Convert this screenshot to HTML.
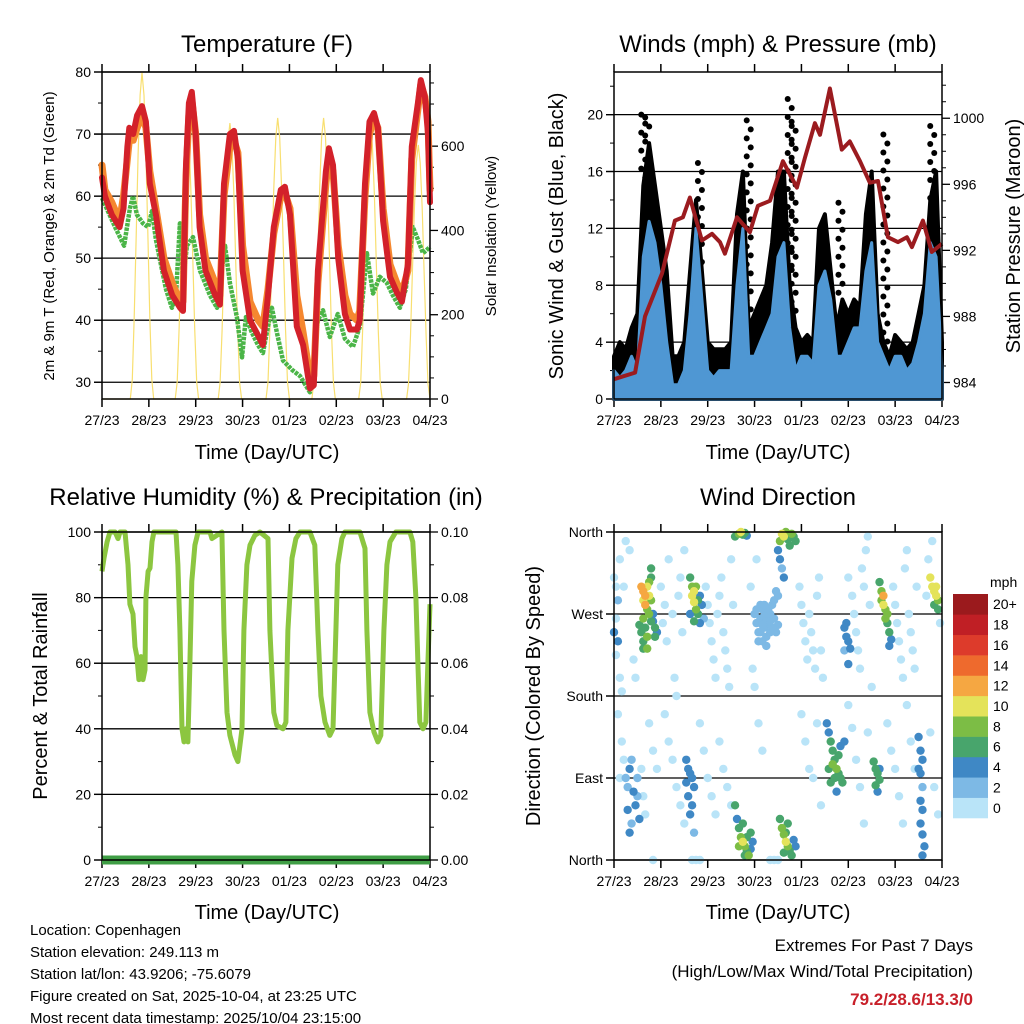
<!DOCTYPE html>
<html><head><meta charset="utf-8">
<style>
html,body{margin:0;padding:0;background:#fff;}
svg{display:block;font-family:"Liberation Sans",Arial,sans-serif;}
</style></head>
<body>
<svg id="chart" width="1024" height="1024" viewBox="0 0 1024 1024" xmlns="http://www.w3.org/2000/svg">
<rect width="1024" height="1024" fill="#fff"/>
<g font-size="24" text-anchor="middle">
<text x="267" y="52">Temperature (F)</text>
<text x="778" y="52">Winds (mph) &amp; Pressure (mb)</text>
<text x="266" y="505">Relative Humidity (%) &amp; Precipitation (in)</text>
<text x="778" y="505">Wind Direction</text>
</g>
<g font-size="20" text-anchor="middle">
<text x="267" y="459">Time (Day/UTC)</text>
<text x="778" y="459">Time (Day/UTC)</text>
<text x="267" y="919">Time (Day/UTC)</text>
<text x="778" y="919">Time (Day/UTC)</text>
</g>
<g text-anchor="middle">
<text transform="translate(54,236) rotate(-90)" font-size="15">2m &amp; 9m T (Red, Orange) &amp; 2m Td (Green)</text>
<text transform="translate(496,236) rotate(-90)" font-size="15">Solar Insolation (Yellow)</text>
<text transform="translate(563,236) rotate(-90)" font-size="20">Sonic Wind &amp; Gust (Blue, Black)</text>
<text transform="translate(1020,236) rotate(-90)" font-size="20">Station Pressure (Maroon)</text>
<text transform="translate(47,696) rotate(-90)" font-size="20">Percent &amp; Total Rainfall</text>
<text transform="translate(540,696) rotate(-90)" font-size="20">Direction (Colored By Speed)</text>
</g>
<g font-size="15">
<text x="30" y="935">Location: Copenhagen</text>
<text x="30" y="957">Station elevation: 249.113 m</text>
<text x="30" y="979">Station lat/lon: 43.9206; -75.6079</text>
<text x="30" y="1001">Figure created on Sat, 2025-10-04, at 23:25 UTC</text>
<text x="30" y="1023">Most recent data timestamp: 2025/10/04 23:15:00</text>
</g>
<g text-anchor="end" font-size="17">
<text x="973" y="951">Extremes For Past 7 Days</text>
<text x="973" y="977">(High/Low/Max Wind/Total Precipitation)</text>
<text x="973" y="1005" fill="#c8202a" font-weight="bold">79.2/28.6/13.3/0</text>
</g>
</svg>
<script>
// ---------- data ----------
const dayLabels = ["27/23","28/23","29/23","30/23","01/23","02/23","03/23","04/23"];
const tempHours = [0,1.5,5,9,11,13,14,16,18,20.5,22.5,24.5,27.6,31.7,36,40,41.5,43,44.5,46,48,50,53,58,60.4,62.5,65.5,67.6,69.6,72,75.8,80,82.4,85,88,91.6,93.7,96.3,99.8,103,106.5,108.5,110.6,114.7,116.2,118.3,121,124.4,127,130.6,132,134.7,137,139.3,141.3,144,147.5,151,153.6,156.7,158.7,161.8,163.3,165.4,167,168];
const tempRed = [63,60,57,55,58,68,71,70,73,74.5,72,62,57,48,44,42,41.5,65,75,76.8,70,55,48,44,42.5,62,70,70.5,66,48,40,37.5,36,44,55,61,61.5,57,39,36,29,29.5,48,64,67.7,65,50,41,38.5,38.5,40,62,72,73.4,71,56,47,44.5,43,49,68,75,78.7,76,70,59];
const tempOrange = [65,61,59,56,60,66,69,69,71,73,71,64,58,50,46,43,43,63,73,75.5,70,57,50,46,44,60,68,69,67,52,43,40,39,45,54,60,60.5,58,44,38,31,31,46,62,66.5,64,52,44,41,40,41.5,60,70,72.5,71,58,49,46,44.5,48,66,74,78,76,72,61];
const dewHours = [0,6.7,11.3,14.3,15.9,17.9,21,23.6,25.6,27.6,29.7,32.8,35.8,37.9,39.9,41.5,43.5,46.6,50.2,55.3,58.9,60.9,63,65.5,69.1,71.7,73.7,76.8,79.9,82.4,85,87,89.6,92.7,97.3,101.4,106.5,110.6,113.2,116.7,120.8,124.4,128.5,132.1,135.7,138.8,142.3,145.9,149,152.6,155.6,159.2,161.8,164.4,168];
const dewValues = [59.7,55,52,58,60,57,55.6,55,57.6,53,49.7,45,42,44,55.6,46,52,53.4,48,44,42,47,52,46,40.5,34,40.5,38,36,34.7,39,42,38,33.5,32,31,28.4,40,41.6,37.3,41,37,35.7,39,50.8,44.3,47,46,44,42,45,55,53,50.8,51.8];
const solarPeakHour = [20.5,43.5,65.5,90,113.5,137.5,162];
const solarPeak = [775,667,655,667,667,645,603];
const solarShapeOffset = [-6,-5,-4,-3,-2,-1,0,1,2,3,4,5,6];
const solarShapeFrac = [0,0.06,0.25,0.5,0.75,0.93,1,0.93,0.75,0.5,0.25,0.06,0];

const windSustained = [2,1.5,2,3,2,10,12.5,11,8,4,1,1,2,6,12,7,2,1.5,2,2,2,8,12,3,3,4,5,6,10,11,5,2,3,3,2.5,8,9,7,3,3,4,5,5,9,11,4,3,2,3,3,2,2.5,4,6,11,10,2];
const windGust = [3,4,3.5,5,6,15,18,15,12,9,3,3,4,9,14,9,4,3.5,3.5,3.5,4,13,16,5,6,7,8,11,16,16,8,5,4,4.5,4,12,13,9,5,7,6,7,6.5,13,16,6,4,3,4.5,4,3.5,4,6,8,14,16,4];
const gustPeakHours = [15,17,44,69,90,92,116,139,163];
const gustPeakValues = [20,19.8,16.6,19.6,21.1,19.5,13.8,18.6,19.2];
const pressHours = [0,10.8,15.9,24.6,31.2,35.3,38.9,45,50.2,54.3,56.8,63,69.6,73.7,79.9,86.5,93.7,97.8,102.9,105.5,110.6,116.7,120.8,126,131,135.2,140.3,145.4,150,152.6,158.2,162.8,168];
const pressValues = [984.2,984.6,988,990.6,993.8,994,995.2,992.6,993,992.5,991.8,994,993.1,994.7,995,997.4,995.8,997.6,999.7,999,1001.8,998.1,998.6,997.4,996.1,996.2,992.8,992.5,992.8,992.2,993.8,991.9,992.4];

const rhHours = [0,1,2.6,4.1,6.7,8.2,9.2,11.8,13.3,14.3,15.9,16.9,17.9,18.9,20,21,22,22.5,23.6,24.6,25.6,26.6,37.9,38.9,39.9,41,42,43,44,45,46,47.6,49.2,55.3,56.3,61.4,62.5,64,65.5,68.1,69.6,71.7,72.7,74.2,75.8,78.3,80.9,85,86,88,89.6,92.7,94.2,95.2,97.3,99.3,101.4,106.5,109,110.6,112.1,114.2,116.7,118.3,119.8,120.8,122.9,124.4,132.1,134.7,135.7,137.2,139.3,141.3,142.8,144.4,145.9,147.5,150.5,157.7,159.2,160.8,161.8,162.8,164.4,165.9,166.9,168];
const rhValues = [88,92,97,100,100,98,100,100,90,78,75,65,62,55,62,55,58,80,88,89,97,100,100,90,70,40,36,40,36,60,85,96,100,100,98,100,70,45,38,32,30,40,70,90,96,99,100,98,70,45,41,40,42,70,92,98,100,100,96,70,50,42,38,40,70,90,98,100,100,95,70,45,39,36,38,70,90,97,100,100,97,80,60,42,40,42,60,78];
const precipHours = [0,168];
const precipValues = [0,0];

const speedLabels = ["0","2","4","6","8","10","12","14","16","18","20+"];
const speedColors = ["#b9e4f8","#7db9e5","#3f88c5","#48a56c","#7cbd45","#e4e35a","#f5a742","#ee6a2d","#dd3b2b","#c01f25","#9b1a1d"];
const dirTicks = ["North","East","South","West","North"];
// [hour, direction deg, speed mph]
const windObs = [
[14,300,12],[15,295,12],[16,290,12],[15,285,11],[16,280,12],[17,300,10],[17,275,9],[18,305,8],[18,290,10],[19,285,9],[18,270,8],[15,265,8],[16,255,7],[14,250,6],[15,240,7],[17,245,8],[19,262,6],[20,270,4],[21,255,6],[22,250,5],[21,245,6],[20,262,5],[19,320,7],[19,310,7],[17,232,8],[15,232,6],[13,258,7],
[39,310,7],[40,300,9],[40,290,10],[41,295,10],[41,283,10],[42,300,9],[42,275,8],[43,285,7],[43,270,6],[44,290,5],[45,280,4],[44,260,4],[46,265,3],[39,270,4],[41,262,6],
[62,355,6],[64,358,8],[65,360,10],[66,357,7],[67,359,6],[68,356,5],
[84,340,4],[85,350,8],[86,358,10],[87,355,10],[88,360,8],[89,352,7],[90,345,6],[91,358,8],[92,355,7],[93,350,6],[85,330,4],[86,320,3],[87,310,4],
[72,270,2],[73,260,2],[74,250,2],[75,265,2],[76,275,2],[77,255,2],[78,245,2],[79,260,2],[80,270,2],[81,280,2],[82,265,2],[83,250,2],[84,258,2],[74,240,2],[76,240,2],[78,235,2],[80,250,2],[82,285,2],[75,280,2],[79,275,2],[77,268,2],[81,255,2],[73,275,2],[84,290,2],[83,295,2],[76,258,2],[78,262,2],[80,262,2],[75,250,2],[77,280,2],
[118,255,4],[119,245,4],[120,240,4],[121,232,5],[119,260,4],[118,230,3],[120,215,4],
[136,305,6],[137,295,8],[138,290,12],[138,280,10],[139,275,9],[139,265,8],[140,260,7],[141,250,6],[142,242,5],[140,270,8],[137,285,9],[141,235,5],
[162,310,10],[163,300,10],[164,295,10],[165,290,10],[166,285,9],[164,280,7],[165,300,10],[166,275,6],
[62,60,6],[63,45,4],[64,35,6],[65,25,8],[66,20,10],[67,15,8],[68,10,6],[69,5,8],[70,30,7],[66,40,6],[64,15,8],[68,25,6],[67,5,6],[70,12,4],[71,20,4],
[85,45,6],[86,35,8],[87,28,8],[88,20,10],[89,15,8],[90,10,6],[91,5,6],[92,22,5],[87,8,6],[89,40,6],[93,15,4],[88,30,6],
[109,150,4],[110,140,4],[111,130,6],[112,120,6],[113,110,6],[114,100,8],[115,95,6],[116,90,6],[117,85,6],[112,105,8],[113,90,6],[111,85,6],[110,100,6],[115,115,6],[114,75,5],[116,125,5],[118,130,5],
[133,108,6],[134,100,6],[135,95,6],[136,88,6],[134,82,6],[135,75,4],[136,100,5],
[6,90,3],[7,80,3],[8,100,4],[9,110,3],[10,75,4],[11,60,4],[12,70,3],[7,55,4],[9,40,3],[8,30,4],[12,90,3],[13,45,4],
[37,110,4],[38,100,4],[39,95,4],[40,90,4],[41,80,4],[38,70,4],[40,60,4],[39,50,4],[41,30,3],[37,85,4],
[156,135,4],[157,120,4],[158,110,4],[157,95,4],[158,80,3],[157,65,4],[158,55,4],[157,40,4],[158,28,4],[159,15,4],[156,100,4],[158,5,4],
[0,310,1],[1,300,1],[2,285,2],[1,265,1],[0,250,4],[2,240,4],[1,225,1],[3,200,1],[4,185,1],[5,300,1],[3,330,1],[6,350,1],[8,340,1],[10,220,1],[11,200,1],[24,300,1],[26,280,1],[25,260,1],[27,240,1],[28,330,1],[30,270,1],[31,200,1],[32,180,1],[33,290,1],[34,310,1],[35,250,1],[36,340,1],[47,300,1],[48,280,1],[49,260,1],[50,240,1],[51,220,1],[52,200,1],[53,270,1],[54,290,1],[55,310,1],[56,250,1],[57,230,1],[58,210,1],[59,190,1],[60,330,1],[61,280,1],[70,300,1],[71,210,1],[72,190,1],[73,330,1],[95,300,1],[96,280,1],[97,260,1],[98,240,1],[99,220,1],[100,270,1],[101,250,1],[102,230,1],[103,210,1],[104,290,1],[105,310,1],[106,230,1],[107,200,1],[120,310,1],[122,290,1],[123,270,1],[124,250,1],[125,230,1],[126,210,1],[127,320,1],[128,300,1],[129,340,1],[130,355,1],[131,280,1],[132,190,1],[143,300,1],[144,280,1],[145,260,1],[146,240,1],[147,220,1],[148,200,1],[149,320,1],[150,340,1],[151,270,1],[152,250,1],[153,230,1],[154,210,1],[155,300,1],[160,290,1],[161,330,1],[163,350,1],[167,260,1],
[2,160,1],[4,130,1],[5,110,1],[3,90,1],[14,100,1],[15,70,1],[16,50,1],[18,150,1],[20,120,1],[22,100,1],[26,160,1],[28,130,1],[30,110,1],[32,80,1],[34,60,1],[36,40,1],[44,150,1],[46,120,1],[48,90,1],[50,70,1],[52,50,1],[54,130,1],[56,100,1],[58,80,1],[60,60,1],[74,150,1],[76,120,1],[80,0,1],[82,0,1],[84,0,1],[96,160,1],[98,130,1],[100,100,1],[102,90,1],[104,150,1],[106,60,1],[120,170,1],[122,145,1],[124,110,1],[126,80,1],[128,40,1],[130,140,1],[140,150,1],[142,120,1],[144,100,1],[146,70,1],[148,40,1],[150,170,1],[152,130,1],[154,100,1],[162,140,1],[164,80,1],[166,50,1],[40,0,1],[42,0,1],[44,0,1],[20,0,1]
];

// ---------- helpers ----------
const NS = "http://www.w3.org/2000/svg";
const svg = document.getElementById("chart");
function mk(tag, attrs, parent) {
  const e = document.createElementNS(NS, tag);
  for (const k in attrs) e.setAttribute(k, attrs[k]);
  (parent || svg).appendChild(e);
  return e;
}
const P1 = {x0:102,x1:430,y0:72,y1:399};
const P2 = {x0:614,x1:942,y0:72,y1:399};
const P3 = {x0:102,x1:430,y0:532,y1:860};
const P4 = {x0:614,x1:942,y0:532,y1:860};
function xs(P, h) { return P.x0 + h / 168 * (P.x1 - P.x0); }
function lin(P, v, lo, hi) { return P.y1 - (v - lo) / (hi - lo) * (P.y1 - P.y0); }
const yT = v => lin(P1, v, 27.3, 80);
const yS = v => lin(P1, v, 0, 776);
const yW = v => lin(P2, v, 0, 23);
const yP = v => lin(P2, v, 983, 1002.8);
const yRH = v => lin(P3, v, 0, 100);
const yPr = v => lin(P3, v, 0, 0.1);
const yD = v => lin(P4, v, 0, 360);

function frame(P, name) {
  const g = mk("g", {});
  
  
  dayLabels.forEach((lab, i) => {
    const x = xs(P, i * 24);
    const t1 = mk("line", {x1:x, x2:x, y1:P.y1, y2:P.y1 + 8, stroke:"#000", "stroke-width":1.5}, g);
    
    
    const t2 = mk("line", {x1:x, x2:x, y1:P.y0 - 8, y2:P.y0, stroke:"#000", "stroke-width":1.5}, g);
    
    
    const tx = mk("text", {x:x, y:P.y1 + 26, "font-size":14, "text-anchor":"middle"}, g);
    tx.textContent = lab;
    
    
  });
  return g;
}
function border(P, name) {
  const r = mk("rect", {x:P.x0, y:P.y0, width:P.x1 - P.x0, height:P.y1 - P.y0, fill:"none", stroke:"#000", "stroke-width":1.5});
  
  
}
function yAxis(P, g, vals, yf, labels, side, grid, minor) {
  vals.forEach((v, i) => {
    const y = yf(v);
    if (grid) {
      const gl = mk("line", {x1:P.x0 - 8, x2:P.x1, y1:y, y2:y, stroke:"#000", "stroke-width":1.3}, g);
      
      
    }
    const x = side === "l" ? P.x0 : P.x1;
    const d = side === "l" ? -8 : 8;
    const tk = mk("line", {x1:x, x2:x + d, y1:y, y2:y, stroke:"#000", "stroke-width":1.3}, g);
    
    
    const tx = mk("text", {x:x + (side === "l" ? -11 : 11), y:y + 5, "font-size":14, "text-anchor":side === "l" ? "end" : "start"}, g);
    tx.textContent = labels[i];
    
    
  });
  (minor || []).forEach(v => {
    const y = yf(v);
    const x = side === "l" ? P.x0 : P.x1;
    const d = side === "l" ? -4 : 4;
    const tk = mk("line", {x1:x, x2:x + d, y1:y, y2:y, stroke:"#000", "stroke-width":1}, g);
    
    
  });
}
function path(pts) { return pts.map((p, i) => (i ? "L" : "M") + p[0].toFixed(1) + "," + p[1].toFixed(1)).join(""); }

// ---------- panel 1: temperature ----------
(function(){
  const g = frame(P1, "temperature");
  yAxis(P1, g, [30,40,50,60,70,80], yT, ["30","40","50","60","70","80"], "l", true, [35,45,55,65,75]);
  yAxis(P1, g, [0,200,400,600], yS, ["0","200","400","600"], "r", false, [50,100,150,250,300,350,450,500,550,650,700,750]);
  const sp = [[xs(P1,0), yS(0)]];
  solarPeakHour.forEach((ph, d) => {
    solarShapeOffset.forEach((o, j) => sp.push([xs(P1, ph + o), yS(solarPeak[d] * solarShapeFrac[j])]));
  });
  sp.push([xs(P1,168), yS(0)]);
  const s = mk("path", {d:path(sp), fill:"none", stroke:"#f8df70", "stroke-width":1.2});
  
  
  const dew = mk("path", {d:path(dewHours.map((h,i)=>[xs(P1,h), yT(dewValues[i])])), fill:"none", stroke:"#4bb548", "stroke-width":4.5, "stroke-dasharray":"3.5 1", "stroke-linejoin":"round"});
  
  
  const or = mk("path", {d:path(tempHours.map((h,i)=>[xs(P1,h), yT(tempOrange[i])])), fill:"none", stroke:"#f5872f", "stroke-width":7, "stroke-linejoin":"round", "stroke-linecap":"round"});
  
  
  const rd = mk("path", {d:path(tempHours.map((h,i)=>[xs(P1,h), yT(tempRed[i])])), fill:"none", stroke:"#d3212a", "stroke-width":6, "stroke-linejoin":"round", "stroke-linecap":"round"});
  
  
  border(P1, "temperature");
})();

// ---------- panel 2: winds & pressure ----------
(function(){
  const g = frame(P2, "winds");
  yAxis(P2, g, [0,4,8,12,16,20], yW, ["0","4","8","12","16","20"], "l", true, [2,6,10,14,18,22]);
  yAxis(P2, g, [984,988,992,996,1000], yP, ["984","988","992","996","1000"], "r", false, [985,986,987,989,990,991,993,994,995,997,998,999,1001,1002]);
  const gp = windGust.map((v,i)=>[xs(P2,i*3), yW(v)]);
  gp.push([xs(P2,168), yW(0)], [xs(P2,0), yW(0)]);
  const ga = mk("path", {d:path(gp)+"Z", fill:"#000", stroke:"#000", "stroke-width":4, "stroke-linejoin":"round"});
  
  
  gustPeakHours.forEach((h,i) => {
    const top = yW(gustPeakValues[i]);
    const bot = yW(windGust[Math.round(h/3)]);
    for (let y = top; y < bot; y += 9) {
      const c = mk("circle", {cx:xs(P2,h) + ((Math.round((y-top)/9) % 2) ? 2 : -2), cy:y, r:3, fill:"#000"});
      
      
    }
  });
  const bp = windSustained.map((v,i)=>[xs(P2,i*3), yW(v)]);
  bp.push([xs(P2,168), yW(0)], [xs(P2,0), yW(0)]);
  const ba = mk("path", {d:path(bp)+"Z", fill:"#4f97d3", stroke:"#4f97d3", "stroke-width":3, "stroke-linejoin":"round"});
  
  
  const pr = mk("path", {d:path(pressHours.map((h,i)=>[xs(P2,h), yP(pressValues[i])])), fill:"none", stroke:"#9b1b1f", "stroke-width":4, "stroke-linejoin":"round"});
  
  
  border(P2, "winds");
})();

// ---------- panel 3: RH & precip ----------
(function(){
  const g = frame(P3, "humidity");
  yAxis(P3, g, [0,20,40,60,80,100], yRH, ["0","20","40","60","80","100"], "l", true, [10,30,50,70,90]);
  yAxis(P3, g, [0,0.02,0.04,0.06,0.08,0.1], yPr, ["0.00","0.02","0.04","0.06","0.08","0.10"], "r", false, [0.01,0.03,0.05,0.07,0.09]);
  const pc = mk("path", {d:path(precipHours.map((h,i)=>[xs(P3,h), yPr(precipValues[i])])), fill:"none", stroke:"#3f9e45", "stroke-width":9});
  
  
  const rh = mk("path", {d:path(rhHours.map((h,i)=>[xs(P3,h), yRH(rhValues[i])])), fill:"none", stroke:"#8cc640", "stroke-width":5, "stroke-linejoin":"round"});
  
  
  border(P3, "humidity");
})();

// ---------- panel 4: wind direction ----------
(function(){
  const g = frame(P4, "direction");
  yAxis(P4, g, [0,90,180,270,360], yD, dirTicks, "l", true, []);
  const pts = mk("g", {});
  
  
  const order = windObs.slice().sort((a,b)=>a[2]-b[2]);
  order.forEach(o => {
    const ci = Math.min(10, Math.floor(o[2] / 2));
    const c = mk("circle", {cx:xs(P4,o[0]), cy:yD(o[1]), r:4.2, fill:speedColors[ci]}, pts);
    
    
  });
  border(P4, "direction");
  const cb = mk("g", {});
  
  
  const h = (818 - 594) / 11;
  speedColors.forEach((col, i) => {
    const y = 818 - (i + 1) * h;
    const r = mk("rect", {x:953, y:y, width:35, height:h + 0.3, fill:col}, cb);
    
    
    const t = mk("text", {x:993, y:y + h / 2 + 5, "font-size":14}, cb);
    t.textContent = speedLabels[i];
    
    
  });
  const u = mk("text", {x:990, y:587, "font-size":14}, cb);
  u.textContent = "mph";
  
  
})();
</script>
</body></html>
